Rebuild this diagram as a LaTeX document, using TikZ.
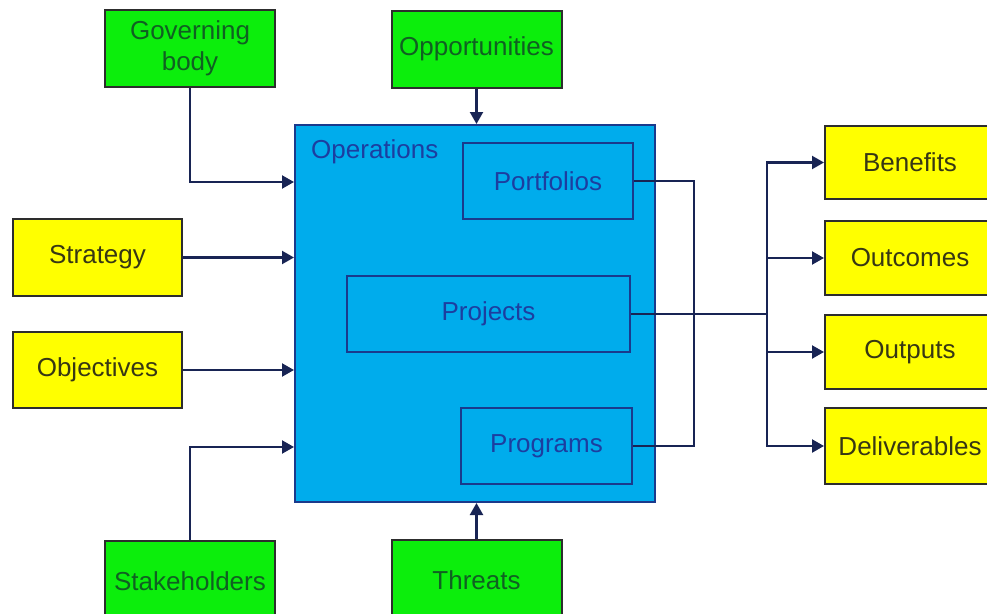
\documentclass[tikz,border=0pt]{standalone}
\usepackage{fontspec}
\setmainfont{Liberation Sans}
\usetikzlibrary{arrows.meta}
\definecolor{gfill}{RGB}{12,238,12}
\definecolor{gtext}{RGB}{16,96,34}
\definecolor{yfill}{RGB}{255,255,0}
\definecolor{ytext}{RGB}{55,55,20}
\definecolor{bfill}{RGB}{0,172,236}
\definecolor{btext}{RGB}{28,62,160}
\definecolor{bline}{RGB}{26,58,140}
\definecolor{edge}{RGB}{45,45,45}
\definecolor{navy}{RGB}{24,36,84}
\tikzset{
  base/.style={draw=edge, line width=2pt, inner sep=0pt, align=center,
    font=\fontsize{26}{31}\selectfont},
  gbox/.style={base, fill=gfill, text=gtext, minimum width=170pt, minimum height=77pt},
  ybox/.style={base, fill=yfill, text=ytext, minimum width=170pt, minimum height=75pt},
  opsbox/.style={base, fill=bfill, draw=bline, minimum width=360pt, minimum height=377pt},
  inbox/.style={base, fill=bfill, draw=bline, text=btext, minimum height=76pt},
  conn/.style={draw=navy, line width=2.2pt},
  arr/.style={conn, -{Triangle[length=12pt,width=13pt]}},
}
\begin{document}
\begin{tikzpicture}[x=1pt,y=-1pt]
\clip (0,0) rectangle (987,613);
\fill[white] (0,0) rectangle (987,613);
% main operations box
\node[opsbox] (ops) at (475,313.5) {};
\node[anchor=base west, inner sep=0pt, text=btext, font=\fontsize{26}{31}\selectfont] (opslbl) at (311,158) {Operations};
\node[inbox, minimum width=170pt] (port) at (548,181) {Portfolios};
\node[inbox, minimum width=283pt] (proj) at (488.5,314) {Projects};
\node[inbox, minimum width=171pt] (prog) at (546.5,446) {Programs};
% green boxes
\node[gbox] (gov) at (190,48.5) {Governing\\body};
\node[gbox] (opp) at (476.5,49) {Opportunities};
\node[gbox, minimum height=80pt] (stake) at (190,581) {Stakeholders};
\node[gbox, minimum height=80pt] (thr) at (476.5,580) {Threats};
% yellow left boxes
\node[ybox, minimum width=169pt, minimum height=77pt] (strat) at (97.5,257.5) {Strategy};
\node[ybox, minimum width=169pt, minimum height=76pt] (obj) at (97.5,370) {Objectives};
% yellow right boxes
\node[ybox, minimum height=73pt] (ben) at (910,162.5) {Benefits};
\node[ybox, minimum height=74pt] (outc) at (910,258) {Outcomes};
\node[ybox, minimum height=74pt] (outp) at (910,352) {Outputs};
\node[ybox, minimum height=76pt] (del) at (910,446) {Deliverables};
% inputs
\draw[arr] (gov.south) |- ([yshift=131.5pt]ops.west);
\draw[arr] (strat.east) -- (strat.east -| ops.west);
\draw[arr] (obj.east) -- (obj.east -| ops.west);
\draw[arr] (stake.north) |- ([yshift=-133.5pt]ops.west);
\draw[arr] (opp.south) -- (opp.south |- ops.north);
\draw[arr] (thr.north) -- (thr.north |- ops.south);
% outputs
\draw[conn] (port.east) -- ++(60,0) |- (prog.east);
\coordinate (hub) at (767,314);
\draw[conn] (proj.east) -- (hub);
\draw[arr] (hub) |- (ben.west);
\draw[arr] (hub) |- (outc.west);
\draw[arr] (hub) |- (outp.west);
\draw[arr] (hub) |- (del.west);
\end{tikzpicture}
\end{document}
